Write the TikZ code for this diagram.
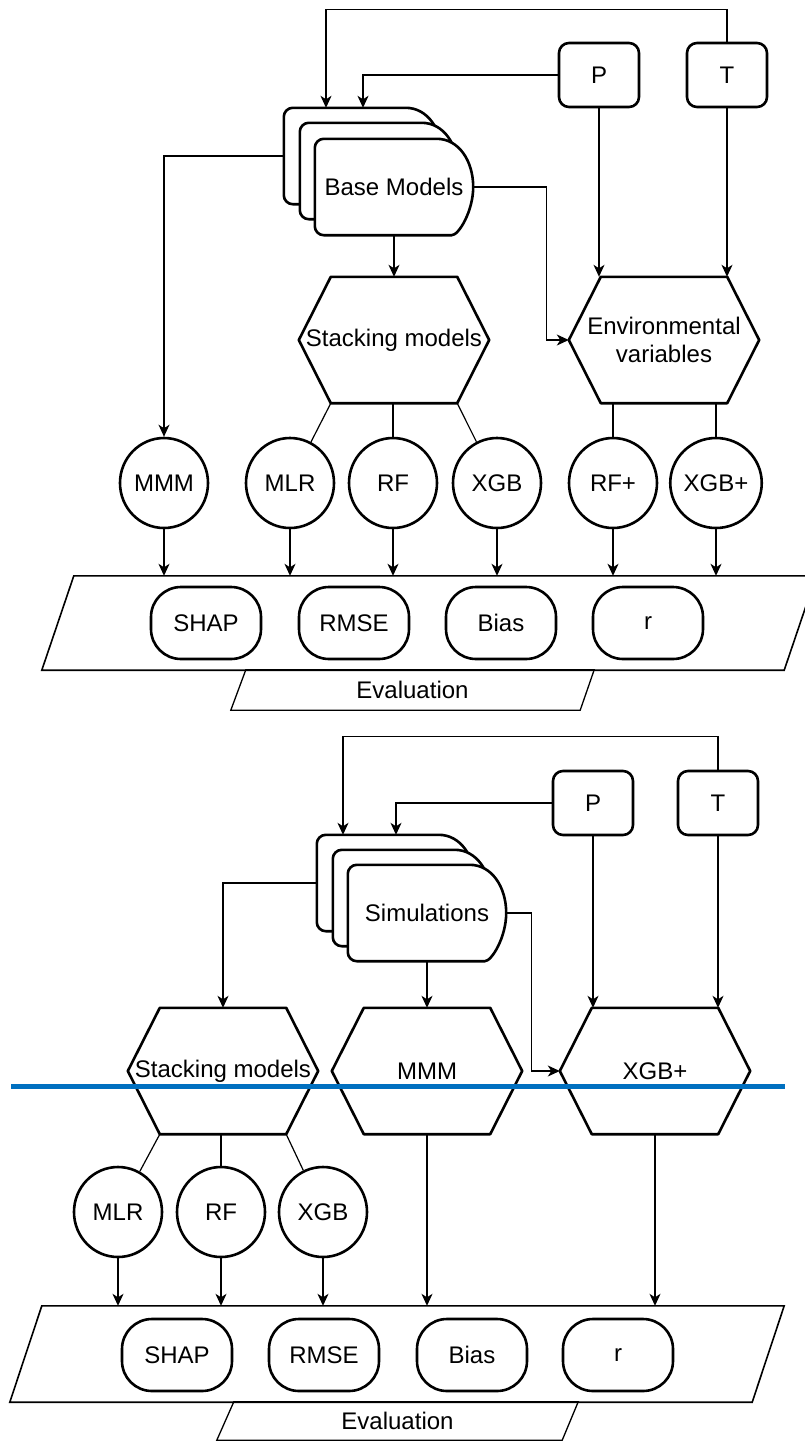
\documentclass[tikz,border=0pt]{standalone}
\usepackage{fontspec}
\setmainfont{Liberation Sans}
\usetikzlibrary{arrows.meta,shapes.geometric}

\definecolor{cutblue}{RGB}{0,112,192}

\tikzset{
  every node/.style={font=\fontsize{24}{28}\selectfont},
  >={Stealth[length=12pt,width=11pt,inset=3.5pt]},
  flow/.style={line width=1.2pt},
  shapeline/.style={line width=2.6pt, line join=round},
  inbox/.style={draw, line width=2.6pt, rounded corners=10, minimum width=80, minimum height=64},
  modelcirc/.style={draw, ellipse, line width=2.6pt, minimum width=88, minimum height=90, inner sep=0pt},
  metric/.style={draw, line width=2.6pt, rounded corners=30, minimum width=110, minimum height=72},
  cardbox/.style={minimum width=158, minimum height=96, inner sep=0pt},
  hexbox/.style={minimum width=190, minimum height=126, inner sep=0pt, align=center},
  framebox/.style={minimum width=774, minimum height=94, inner sep=0pt},
  tabbox/.style={minimum width=363, minimum height=40, inner sep=0pt},
}

\begin{document}
\begin{tikzpicture}[x=1pt,y=-1pt]
                \useasboundingbox (0,0) rectangle (804,1441);

                % base models chain
                \node[inbox] (p1) at (599,75) {P};
                \node[inbox] (t1) at (727,75) {T};
                \node[cardbox] (bm1) at (363,156) {};
                \node[cardbox] (bm2) at (379,171) {};
                \node[cardbox] (bm3) at (394,187) {};
                \node[hexbox] (stack1) at (394,340) {Stacking models};
                \node[hexbox] (env1) at (664,340) {Environmental\\variables};
                \node[modelcirc] (mmm1) at (164,483) {MMM};
                \node[modelcirc] (mlr1) at (290,483) {MLR};
                \node[modelcirc] (rf1) at (393,483) {RF};
                \node[modelcirc] (xgb1) at (497,483) {XGB};
                \node[modelcirc] (rfp1) at (613,483) {RF+};
                \node[modelcirc] (xgbp1) at (716,483) {XGB+};
                \node[framebox] (frame1) at (429,623) {};
                \node[tabbox] (tab1) at (412.5,690) {Evaluation};

                % simulations chain
                \node[inbox] (p2) at (593,803) {P};
                \node[inbox] (t2) at (718,803) {T};
                \node[cardbox] (sim1) at (396,883) {};
                \node[cardbox] (sim2) at (412,898) {};
                \node[cardbox] (sim3) at (427,913) {};
                \node[hexbox] (stack2) at (223,1071) {Stacking models};
                \node[hexbox] (mmm2) at (427,1071) {MMM};
                \node[hexbox] (xgbp2) at (655,1071) {XGB+};
                \node[modelcirc] (mlr2) at (118,1212) {MLR};
                \node[modelcirc] (rf2) at (221,1212) {RF};
                \node[modelcirc] (xgb2) at (323,1212) {XGB};
                \node[framebox, minimum height=96] (frame2) at (397,1354) {};
                \node[tabbox, minimum width=361, minimum height=38] (tab2) at (397.5,1421) {Evaluation};

                \foreach \card in {bm1,bm2,bm3,sim1,sim2,sim3}
                  \draw[shapeline, fill=white, rounded corners=9] ([xshift=122]\card.north west) -- (\card.north west) -- (\card.south west) -- ([xshift=128]\card.south west) [sharp corners] .. controls +(16,0) and +(0,24) .. (\card.east) .. controls +(0,-26) and +(22,0) .. ([xshift=122]\card.north west);
                \node (bmtext) at (bm3) {Base Models};
                \node (simtext) at (sim3) {Simulations};

                \foreach \h in {stack1,env1,stack2,mmm2,xgbp2}
                  \draw[shapeline] ([xshift=32]\h.north west) -- ([xshift=-32]\h.north east) -- (\h.east) -- ([xshift=-32]\h.south east) -- ([xshift=32]\h.south west) -- (\h.west) -- cycle;

                \draw[line width=1.6pt] ([xshift=32]frame1.north west) -- (frame1.north east) -- ([xshift=-32]frame1.south east) -- (frame1.south west) -- cycle;
                \draw[line width=1.6pt] ([xshift=32]frame2.north west) -- (frame2.north east) -- ([xshift=-32]frame2.south east) -- (frame2.south west) -- cycle;
                \draw[line width=1.3pt] ([xshift=15]tab1.north west) -- (tab1.north east) -- ([xshift=-14]tab1.south east) -- (tab1.south west) -- cycle;
                \draw[line width=1.3pt] ([xshift=17]tab2.north west) -- (tab2.north east) -- ([xshift=-16]tab2.south east) -- (tab2.south west) -- cycle;

                \node[metric] (shap1) at (206,623) {SHAP};
                \node[metric] (rmse1) at (354,623) {RMSE};
                \node[metric] (bias1) at (501,623) {Bias};
                \node[metric] (r1) at (648,623) {r};
                \node[metric] (shap2) at (177,1355) {SHAP};
                \node[metric] (rmse2) at (324,1355) {RMSE};
                \node[metric] (bias2) at (472,1355) {Bias};
                \node[metric] (r2) at (618,1355) {r};

                \draw[flow,->] (t1.north) -- ++(0,-32) -| ([xshift=-37]bm1.north);
                \draw[flow,->] (p1.west) -| (bm1.north);
                \draw[flow,->] (bm1.west) -| (mmm1.north);
                \draw[flow,->] (bm3.south) -- (stack1.north);
                \draw[flow,->] (bm3.east) -- ++(73,0) |- (env1.west);
                \draw[flow,->] (p1.south) -- (p1.south |- env1.north);
                \draw[flow,->] (t1.south) -- (t1.south |- env1.north);
                \draw[flow] ([xshift=32]stack1.south west) -- (mlr1);
                \draw[flow] (rf1 |- stack1.south) -- (rf1);
                \draw[flow] ([xshift=-32]stack1.south east) -- (xgb1);
                \draw[flow] (rfp1 |- env1.south) -- (rfp1);
                \draw[flow] (xgbp1 |- env1.south) -- (xgbp1);
                \foreach \m in {mmm1,mlr1,rf1,xgb1,rfp1,xgbp1}
                  \draw[flow,->] (\m) -- (\m |- frame1.north);

                \draw[flow,->] (t2.north) -- ++(0,-33) -| ([xshift=-53]sim1.north);
                \draw[flow,->] (p2.west) -| (sim1.north);
                \draw[flow,->] (sim1.west) -| (stack2.north);
                \draw[flow,->] (sim3.south) -- (mmm2.north);
                \draw[flow,->] (sim3.east) -- ++(25,0) |- (xgbp2.west);
                \draw[flow,->] (p2.south) -- (p2.south |- xgbp2.north);
                \draw[flow,->] (t2.south) -- (t2.south |- xgbp2.north);
                \draw[flow] ([xshift=32]stack2.south west) -- (mlr2);
                \draw[flow] (rf2 |- stack2.south) -- (rf2);
                \draw[flow] ([xshift=-32]stack2.south east) -- (xgb2);
                \foreach \m in {mlr2,rf2,xgb2,mmm2,xgbp2}
                  \draw[flow,->] (\m) -- (\m |- frame2.north);

                \coordinate (cutL) at (11,1086);
                \coordinate (cutR) at (785,1086);
                \draw[line width=5pt, draw=cutblue] (cutL) -- (cutR);
\end{tikzpicture}
\end{document}
